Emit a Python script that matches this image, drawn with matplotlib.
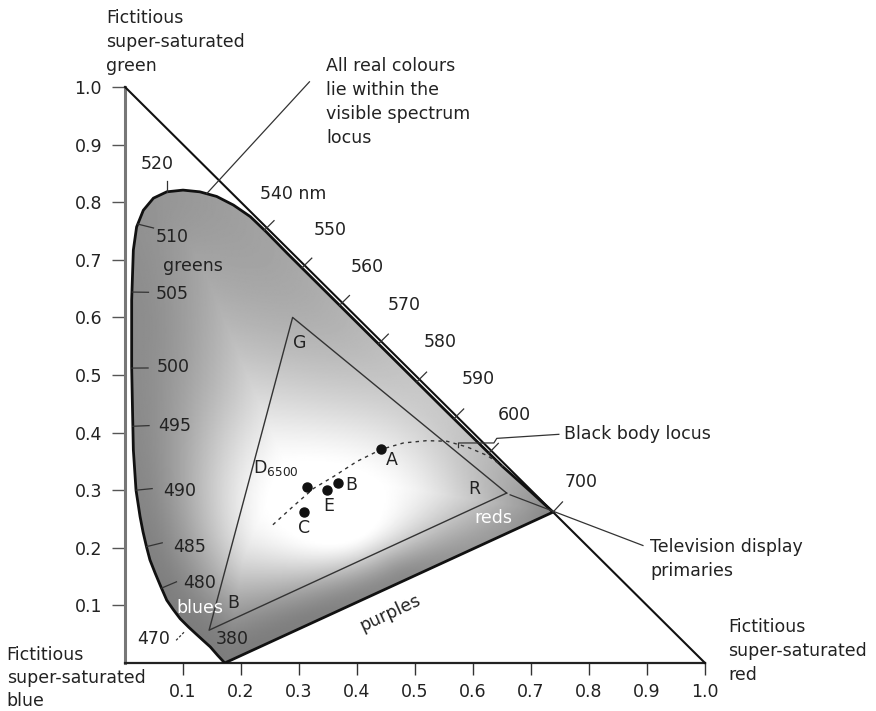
import numpy as np
import matplotlib
matplotlib.use('Agg')
import matplotlib.pyplot as plt
from matplotlib.path import Path
from matplotlib.patches import PathPatch

# ---------------- data ----------------
# spectral locus outline (chromaticity x, y), from 380 nm up the left side to 700 nm
locus_x = [0.172, 0.160, 0.147, 0.136, 0.124, 0.110, 0.095, 0.083, 0.072, 0.062,
           0.052, 0.043, 0.037, 0.031, 0.026, 0.019, 0.0144, 0.0126, 0.0115, 0.0115,
           0.0144, 0.020, 0.0316, 0.049, 0.072, 0.100, 0.129, 0.158, 0.187, 0.216,
           0.244, 0.280, 0.350, 0.450, 0.550, 0.650, 0.700, 0.738]
locus_y = [0.000, 0.013, 0.028, 0.038, 0.049, 0.062, 0.077, 0.093, 0.109, 0.132,
           0.156, 0.179, 0.202, 0.228, 0.254, 0.300, 0.370, 0.457, 0.514, 0.630,
           0.717, 0.757, 0.786, 0.807, 0.818, 0.821, 0.818, 0.810, 0.795, 0.775,
           0.748, 0.711, 0.641, 0.541, 0.441, 0.342, 0.297, 0.262]

# wavelength marks on the locus
wl_labels = ['470', '480', '485', '490', '495', '500', '505', '510', '520',
             '540 nm', '550', '560', '570', '580', '590', '600', '700', '380']
wl_tick_x = [0.110, 0.063, 0.037, 0.019, 0.0135, 0.0118, 0.0125, 0.022, 0.072,
             0.240, 0.305, 0.370, 0.437, 0.503, 0.567, 0.627, 0.738, 0.172]
wl_tick_y = [0.062, 0.130, 0.202, 0.300, 0.411, 0.512, 0.644, 0.762, 0.818,
             0.751, 0.686, 0.621, 0.554, 0.488, 0.424, 0.364, 0.262, 0.000]
wl_text_x = [0.049, 0.129, 0.112, 0.095, 0.086, 0.0833, 0.0805, 0.0805, 0.056,
             0.290, 0.353, 0.417, 0.481, 0.544, 0.609, 0.672, 0.787, 0.184]
wl_text_y = [0.041, 0.139, 0.202, 0.299, 0.411, 0.514, 0.641, 0.739, 0.867,
             0.815, 0.752, 0.687, 0.622, 0.558, 0.4925, 0.430, 0.315, 0.041]

# television display primaries
tv_names = ['R', 'G', 'B']
tv_x = [0.658, 0.289, 0.145]
tv_y = [0.295, 0.600, 0.057]

# white points / illuminants
pt_names = ['A', 'D$_{\\mathregular{6500}}$', 'B', 'E', 'C']
pt_x = [0.442, 0.313, 0.367, 0.349, 0.309]
pt_y = [0.371, 0.306, 0.312, 0.301, 0.263]

# black body locus
bb_x = [0.255, 0.290, 0.325, 0.360, 0.400, 0.442, 0.480, 0.520, 0.555, 0.590, 0.625, 0.652]
bb_y = [0.240, 0.272, 0.303, 0.324, 0.350, 0.371, 0.382, 0.386, 0.385, 0.375, 0.360, 0.341]

ticks = [0.1, 0.2, 0.3, 0.4, 0.5, 0.6, 0.7, 0.8, 0.9, 1.0]
tick_labels = ['0.1', '0.2', '0.3', '0.4', '0.5', '0.6', '0.7', '0.8', '0.9', '1.0']

# ---------------- figure ----------------
plt.rcParams['font.family'] = ['DejaVu Sans']
FS = 12.5
TXT = '#222222'
LS = 1.42

fig = plt.figure(figsize=(8.76, 7.11), dpi=100)
ax = fig.add_axes([125 / 876, 48 / 711, 580 / 876, 576 / 711])
ax.set_xlim(0, 1)
ax.set_ylim(0, 1)

# gradient fill inside the locus
lx = np.array(locus_x)
ly = np.array(locus_y)
gx = np.linspace(0, 0.76, 380)
gy = np.linspace(0, 0.84, 420)
X, Y = np.meshgrid(gx, gy)
P = np.stack([X.ravel(), Y.ravel()], 1)


def seg_dist(P, a, b):
    ab = b - a
    t = np.clip(((P - a) @ ab) / (ab @ ab), 0, 1)
    proj = a + t[:, None] * ab
    return np.hypot(P[:, 0] - proj[:, 0], P[:, 1] - proj[:, 1])


poly = np.column_stack([np.append(lx, lx[0]), np.append(ly, ly[0])])
dmin = np.full(P.shape[0], np.inf)
for a, b in zip(poly[:-1], poly[1:]):
    dmin = np.minimum(dmin, seg_dist(P, a, b))
dred = np.hypot(P[:, 0] - lx[-1], P[:, 1] - ly[-1])

cx, cy = 0.37, 0.255
r = np.hypot((P[:, 0] - cx) / 1.3, P[:, 1] - cy)
s = r / (r + dmin + 1e-9)
theta = np.arctan2(P[:, 1] - cy, P[:, 0] - cx)
amp = 0.45 - 0.25 * np.clip(np.cos(theta - np.pi / 4), 0, None) ** 1.5 \
      + 0.06 * np.clip(np.cos(theta - 1.25 * np.pi), 0, None) ** 2
t = np.clip((s - 0.3) / 0.7, 0, 1)
sv = (t * t * (3 - 2 * t)) ** 0.75
gray = 1 - amp * sv - 0.18 * np.exp(-dred / 0.1) * sv
gray = np.clip(gray, 0, 1).reshape(X.shape)

verts = list(zip(locus_x, locus_y)) + [(locus_x[0], locus_y[0])]
codes = [Path.MOVETO] + [Path.LINETO] * (len(verts) - 2) + [Path.CLOSEPOLY]
locus_path = Path(verts, codes)
patch = PathPatch(locus_path, facecolor='none', edgecolor='#111111', lw=2.0, zorder=4)
ax.add_patch(patch)
im = ax.imshow(gray, extent=[gx[0], gx[-1], gy[0], gy[-1]], origin='lower', cmap='gray',
               vmin=0, vmax=1, interpolation='bilinear', aspect='auto', zorder=1)
im.set_clip_path(patch)

# diagonal x + y = 1
ax.plot([0, 1], [1, 0], color='#111111', lw=1.5, zorder=3, clip_on=False)


# wavelength tick marks
def normal_at(px, py):
    i = int(np.argmin(np.hypot(lx - px, ly - py)))
    i0, i1 = max(i - 1, 0), min(i + 1, len(lx) - 1)
    tx, ty = lx[i1] - lx[i0], ly[i1] - ly[i0]
    n = np.hypot(tx, ty)
    return -ty / n, tx / n  # outward normal (clockwise outline)


for lab, x, y, tx_, ty_ in zip(wl_labels, wl_tick_x, wl_tick_y, wl_text_x, wl_text_y):
    nx, ny = normal_at(x, y)
    if lab in ('480', '485', '490', '495', '500', '505', '510'):
        ax.plot([x, x - 0.028 * nx], [y, y - 0.028 * ny], color='#333333', lw=0.9, zorder=5)
    elif lab == '470':
        ax.plot([x + 0.012 * nx, x + 0.032 * nx], [y + 0.012 * ny, y + 0.032 * ny],
                color='#333333', lw=0.9, ls=(0, (2, 1.5)), zorder=5)
    elif lab == '520':
        ax.plot([x, x], [y, y + 0.018], color='#333333', lw=0.9, zorder=5)
    elif lab != '380':
        ax.plot([x, x + 0.024 * nx], [y, y + 0.024 * ny], color='#333333', lw=0.9,
                zorder=5, clip_on=False)
    ax.text(tx_, ty_, lab, fontsize=FS, color=TXT, ha='center', va='center', zorder=6)

# television display primaries triangle
ax.plot(tv_x + [tv_x[0]], tv_y + [tv_y[0]], color='#333333', lw=1.0, zorder=5)
ax.text(0.3005, 0.556, 'G', fontsize=FS, color=TXT, ha='center', va='center', zorder=6)
ax.text(0.603, 0.3015, 'R', fontsize=FS, color=TXT, ha='center', va='center', zorder=6)
ax.text(0.186, 0.105, 'B', fontsize=FS, color=TXT, ha='center', va='center', zorder=6)

# black body locus
ax.plot(bb_x, bb_y, color='#333333', lw=1.0, ls=(0, (2.5, 3)), zorder=5)

# white points
ax.plot(pt_x, pt_y, 'o', color='#111111', ms=6.5, zorder=7)
pt_off = [(0.018, -0.019), (-0.053, 0.032), (0.023, -0.003), (0.003, -0.029), (0.0, -0.028)]
for name, x, y, (dx, dy) in zip(pt_names, pt_x, pt_y, pt_off):
    ax.text(x + dx, y + dy, name, fontsize=FS, color=TXT, ha='center', va='center', zorder=7)

# region names
ax.text(0.117, 0.689, 'greens', fontsize=FS, color=TXT, ha='center', va='center', zorder=6)
ax.text(0.129, 0.095, 'blues', fontsize=FS, color='white', ha='center', va='center', zorder=6)
ax.text(0.635, 0.251, 'reds', fontsize=FS, color='white', ha='center', va='center', zorder=6)
ax.text(0.457, 0.086, 'purples', fontsize=FS, color=TXT, ha='center', va='center',
        rotation=25, rotation_mode='anchor', zorder=6)

# annotations
ax.plot([0.318, 0.141], [1.009, 0.815], color='#333333', lw=0.9, zorder=5, clip_on=False)
ax.text(0.3466, 0.974, 'All real colours\nlie within the\nvisible spectrum\nlocus',
        fontsize=FS, color=TXT, ha='left', va='center', linespacing=LS)

ax.plot([0.748, 0.641, 0.636, 0.575, 0.575], [0.397, 0.390, 0.382, 0.382, 0.374],
        color='#333333', lw=0.9, zorder=5, clip_on=False)
ax.text(0.757, 0.397, 'Black body locus', fontsize=FS, color=TXT, ha='left', va='center')

ax.plot([0.893, 0.664], [0.204, 0.292], color='#333333', lw=0.9, zorder=5, clip_on=False)
ax.text(0.905, 0.180, 'Television display\nprimaries', fontsize=FS, color=TXT,
        ha='left', va='center', linespacing=LS)

ax.text(-0.033, 1.078, 'Fictitious\nsuper-saturated\ngreen', fontsize=FS, color=TXT,
        ha='left', va='center', linespacing=LS)
ax.text(1.040, 0.021, 'Fictitious\nsuper-saturated\nred', fontsize=FS, color=TXT,
        ha='left', va='center', linespacing=LS)
ax.text(-0.204, -0.026, 'Fictitious\nsuper-saturated\nblue', fontsize=FS, color=TXT,
        ha='left', va='center', linespacing=1.38)

# axes styling
for side in ('top', 'right'):
    ax.spines[side].set_visible(False)
ax.spines['left'].set_color('#777777')
ax.spines['left'].set_linewidth(2.2)
ax.spines['bottom'].set_color('#222222')
ax.spines['bottom'].set_linewidth(1.6)
ax.set_xticks(ticks)
ax.set_xticklabels(tick_labels)
ax.set_yticks(ticks)
ax.set_yticklabels(tick_labels)
ax.tick_params(axis='x', direction='out', length=8.5, width=1.0, color='#333333',
               pad=6, labelsize=FS, labelcolor=TXT)
ax.tick_params(axis='y', direction='out', length=9.5, width=1.0, color='#555555',
               pad=7, labelsize=FS, labelcolor=TXT)
ax.set_facecolor('white')

fig.savefig('out.png', dpi=100, facecolor='white')
